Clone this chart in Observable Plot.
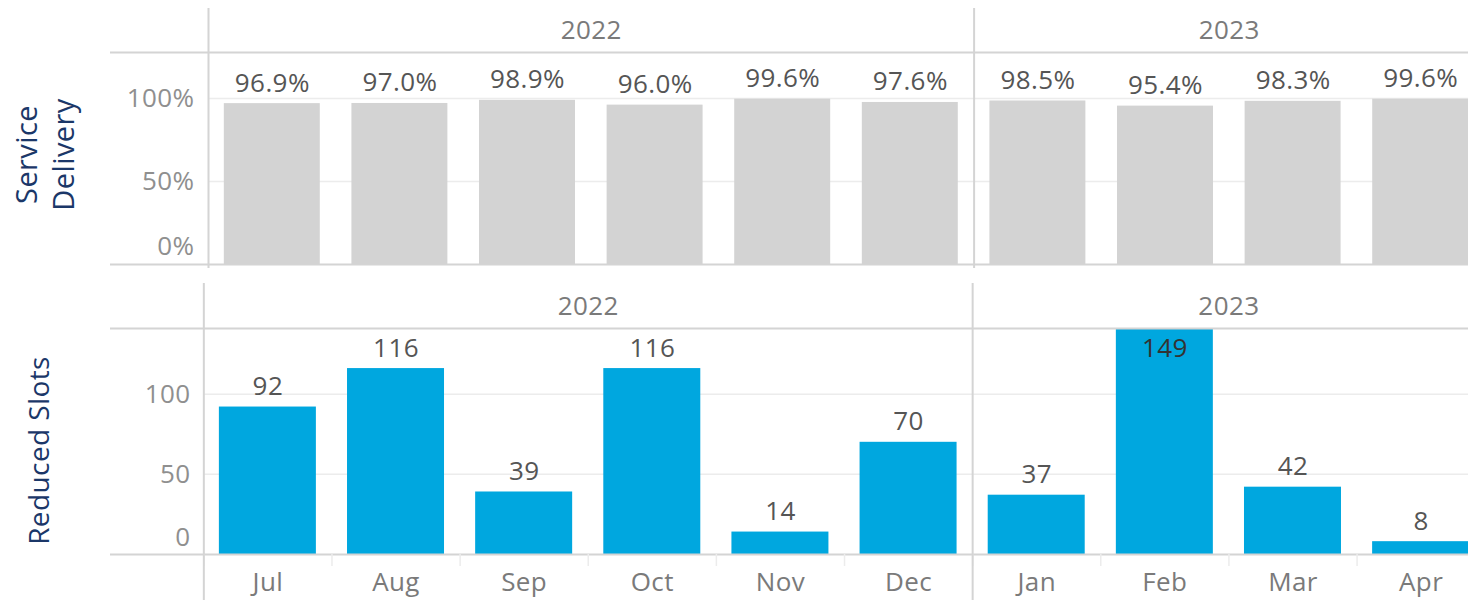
<!DOCTYPE html>
<html><head><meta charset="utf-8">
<script src="https://cdn.jsdelivr.net/npm/d3@7"></script>
<script src="https://cdn.jsdelivr.net/npm/@observablehq/plot@0.6"></script>
<style>
html,body{margin:0;padding:0;background:#fff;overflow:hidden;width:1468px;height:600px}
#chart{position:relative;width:1468px;height:600px}
#chart svg{display:block;overflow:visible}
</style></head><body><div id="chart"></div>
<script>
// ---- data ----
const years = ["2022","2022","2022","2022","2022","2022","2023","2023","2023","2023"];
const months = ["Jul","Aug","Sep","Oct","Nov","Dec","Jan","Feb","Mar","Apr"];
const serviceDelivery = [0.969, 0.970, 0.989, 0.960, 0.996, 0.976, 0.985, 0.954, 0.983, 0.996];
const reducedSlots = [92, 116, 39, 116, 14, 70, 37, 149, 42, 8];
const yearLabels = ["2022", "2023"];
const pctTicks = [0, 0.5, 1];
const slotTicks = [0, 50, 100];

// ---- derived tables ----
const topData = months.map((m, i) => ({month: m, year: years[i], value: serviceDelivery[i]}));
const botData = months.map((m, i) => ({month: m, year: years[i], value: reducedSlots[i]}));
const firsts = topData.filter((d, i) => i === 0 || years[i - 1] !== d.year);
const yearMid = yearLabels.map(y => {
  const ms = topData.filter(d => d.year === y).map(d => d.month);
  return {year: y, month: ms[ms.length / 2 - 1]};
});

const FONT = "'Open Sans', sans-serif";
const FS = 26;
const lineC = "#d4d4d4", gridC = "#ececec", tickC = "#8f8f8f", labC = "#555555", hdrC = "#7a7a7a", titleC = "#1b3768";
const baseStyle = {fontFamily: FONT, fontSize: FS + "px", background: "transparent", letterSpacing: "0.4px"};

// ---- top panel ----
const topRange = [208, 1484];
const stepTop = (topRange[1] - topRange[0]) / months.length;
const topMax = 1.277;
const topPlot = Plot.plot({
  width: 1468, height: 275,
  marginTop: 52, marginBottom: 11, marginLeft: 208, marginRight: 0,
  style: baseStyle,
  x: {domain: months, range: topRange, paddingInner: 0.248, paddingOuter: 0.124, align: 0.5, round: false, axis: null},
  y: {domain: [0, topMax], axis: null},
  marks: [
    Plot.ruleY(pctTicks.filter(t => t > 0), {stroke: gridC, strokeWidth: 1.5}),
    Plot.barY(topData, {x: "month", y: "value", fill: "#d3d3d3", clip: "frame"}),
    Plot.ruleY([0, topMax], {stroke: lineC, strokeWidth: 2, insetLeft: -98}),
    Plot.ruleX(firsts, {x: "month", dx: -stepTop / 2, stroke: lineC, strokeWidth: 2, insetTop: -44, insetBottom: -4}),
    Plot.text(topData, {x: "month", y: "value", text: d => d3.format(".1%")(d.value), lineAnchor: "bottom", dy: -12, fill: labC, fontSize: FS}),
    Plot.text(yearMid, {x: "month", dx: stepTop / 2, frameAnchor: "top", dy: -32, text: "year", fill: hdrC, fontSize: FS}),
    Plot.axisY(pctTicks.filter(t => t > 0), {label: null, tickFormat: d3.format(".0%"), tickSize: 0, tickPadding: 14, color: tickC, fontSize: FS}),
    Plot.axisY(pctTicks.filter(t => t === 0), {label: null, tickFormat: d3.format(".0%"), tickSize: 0, tickPadding: 14, dy: -18, color: tickC, fontSize: FS}),
    Plot.text(["Service\nDelivery"], {frameAnchor: "left", textAnchor: "middle", rotate: -90, dx: -165, dy: -4, fill: titleC, fontSize: 29, lineHeight: 1.3})
  ]
});

// ---- bottom panel ----
const botRange = [203.5, 1484.5];
const stepBot = (botRange[1] - botRange[0]) / months.length;
const botMax = 141;
const botPlot = Plot.plot({
  width: 1468, height: 325,
  marginTop: 53, marginBottom: 46, marginLeft: 203, marginRight: 0,
  style: baseStyle,
  x: {domain: months, range: botRange, paddingInner: 0.243, paddingOuter: 0.12, align: 0.5, round: false},
  y: {domain: [0, botMax], axis: null},
  marks: [
    Plot.ruleY(slotTicks.filter(t => t > 0), {stroke: gridC, strokeWidth: 1.5}),
    Plot.barY(botData, {x: "month", y: "value", fill: "#00a7df", clip: "frame"}),
    Plot.ruleY([0, botMax], {stroke: lineC, strokeWidth: 2, insetLeft: -93}),
    Plot.ruleX(botData, {x: "month", dx: -stepBot / 2, y1: 0, y2: 0, insetBottom: -12, stroke: "#ececec", strokeWidth: 1.5}),
    Plot.ruleX(firsts, {x: "month", dx: -stepBot / 2, stroke: lineC, strokeWidth: 2, insetTop: -45, insetBottom: -46}),
    Plot.text(botData.filter(d => d.value <= botMax), {x: "month", y: "value", text: "value", lineAnchor: "bottom", dy: -12, fill: labC, fontSize: FS}),
    Plot.text(botData.filter(d => d.value > botMax), {x: "month", y: () => botMax, text: "value", lineAnchor: "top", dy: 10, fill: "#333", fontSize: FS}),
    Plot.text(yearMid, {x: "month", dx: stepBot / 2, frameAnchor: "top", dy: -32, text: "year", fill: hdrC, fontSize: FS}),
    Plot.axisX({label: null, tickSize: 0, tickPadding: 18, color: hdrC, fontSize: FS}),
    Plot.axisY(slotTicks.filter(t => t > 0), {label: null, tickSize: 0, tickPadding: 13, color: tickC, fontSize: FS}),
    Plot.axisY(slotTicks.filter(t => t === 0), {label: null, tickSize: 0, tickPadding: 13, dy: -17, color: tickC, fontSize: FS}),
    Plot.text(["Reduced Slots"], {frameAnchor: "left", textAnchor: "middle", rotate: -90, dx: -163, dy: 9, fill: titleC, fontSize: 28})
  ]
});

const root = document.getElementById("chart");
root.appendChild(topPlot);
root.appendChild(botPlot);
</script></body></html>
